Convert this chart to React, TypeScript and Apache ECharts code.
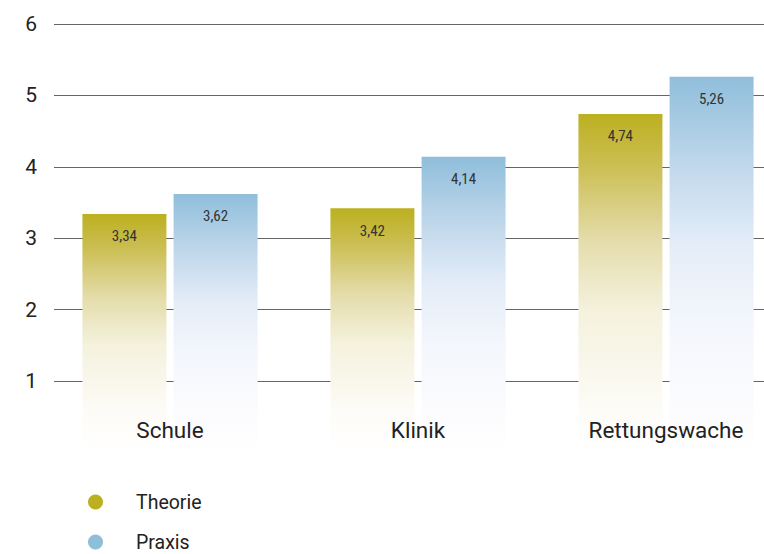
import React, { useEffect, useRef } from "react";
import * as echarts from "echarts";

const categories = ["Schule", "Klinik", "Rettungswache"];
const theorie = [3.34, 3.42, 4.74];
const praxis = [3.62, 4.14, 5.26];
const seriesNames = ["Theorie", "Praxis"];
const yTicks = [1, 2, 3, 4, 5, 6];

const OLIVE = "#bcb020";
const BLUE = "#8fbedb";
const FADE_AT = 0.55; // value where bar fades to white

// gradient stops: [fraction of visible bar, color]
const oliveStops: [number, string][] = [
  [0, OLIVE],
  [0.17, "#cbbe52"],
  [0.42, "#e4dcaa"],
  [0.65, "#f4f1dc"],
  [1, "#fdfcf8"],
];
const blueStops: [number, string][] = [
  [0, BLUE],
  [0.28, "#c3d9ec"],
  [0.5, "#e4edf8"],
  [0.72, "#f3f6fc"],
  [1, "#fcfcfe"],
];

function barData(values: number[], stops: [number, string][]) {
  return values.map((v) => {
    const f = Math.min(1, Math.max(0, (v - FADE_AT) / v));
    const cs = stops.map(([o, c]) => ({ offset: o * f, color: c }));
    cs.push({ offset: 1, color: "#ffffff" });
    return {
      value: v,
      itemStyle: { color: new echarts.graphic.LinearGradient(0, 0, 0, 1, cs) },
    };
  });
}

const fmt = (v: number) => v.toFixed(2).replace(".", ",");

export default function App() {
  const ref = useRef<HTMLDivElement>(null);
  useEffect(() => {
    if (!ref.current) return;
    const chart = echarts.init(ref.current, null, { renderer: "svg" });
    const labelCfg = {
      show: true,
      position: "insideTop",
      distance: 15,
      fontSize: 15,
      fontFamily: "'Roboto Condensed', 'Liberation Sans Narrow', 'DejaVu Sans Condensed', sans-serif",
      color: "#333",
      formatter: (p: any) => fmt(p.value),
    };
    chart.setOption({
      animation: false,
      grid: {
        left: 46,
        width: 744,
        top: 24,
        bottom: 101.6,
        containLabel: false,
        outerBoundsMode: "none",
      },
      legend: {
        orient: "vertical",
        left: 83,
        top: 487,
        height: 120,
        itemWidth: 15,
        itemHeight: 15,
        itemGap: 20,
        icon: "circle",
        data: seriesNames,
        textStyle: {
          fontSize: 19.5,
          fontFamily: "Roboto, sans-serif",
          color: "#222",
          padding: [0, 0, 0, 28],
        },
      },
      xAxis: {
        type: "category",
        data: categories,
        axisLine: { show: false },
        axisTick: { show: false },
        axisLabel: {
          margin: -34,
          fontSize: 22.5,
          fontFamily: "Roboto, sans-serif",
          color: "#222",
        },
        z: 10,
      },
      yAxis: {
        type: "value",
        min: 0,
        max: 6,
        interval: 1,
        axisLine: { show: false },
        axisTick: { show: false },
        axisLabel: {
          showMinLabel: false,
          margin: 9,
          fontSize: 21,
          fontFamily: "Roboto, sans-serif",
          color: "#222",
          formatter: (v: number) => (yTicks.includes(v) ? String(v) : ""),
        },
        splitLine: { showMinLine: false, lineStyle: { color: "#666", width: 1.2 } },
      },
      graphic: [
        {
          type: "rect",
          shape: { x: 40, y: 0, width: 14, height: 460 },
          style: { fill: "#ffffff" },
          z: 100,
        },
      ],
      series: [
        {
          name: seriesNames[0],
          type: "bar",
          data: barData(theorie, oliveStops),
          barWidth: 84,
          barGap: "8.5%",
          color: OLIVE,
          label: labelCfg,
        },
        {
          name: seriesNames[1],
          type: "bar",
          data: barData(praxis, blueStops),
          barWidth: 84,
          color: BLUE,
          label: labelCfg,
        },
      ],
    });
    return () => chart.dispose();
  }, []);
  return <div ref={ref} style={{ width: 764, height: 554, position: "absolute", left: 0, top: 0 }} />;
}
